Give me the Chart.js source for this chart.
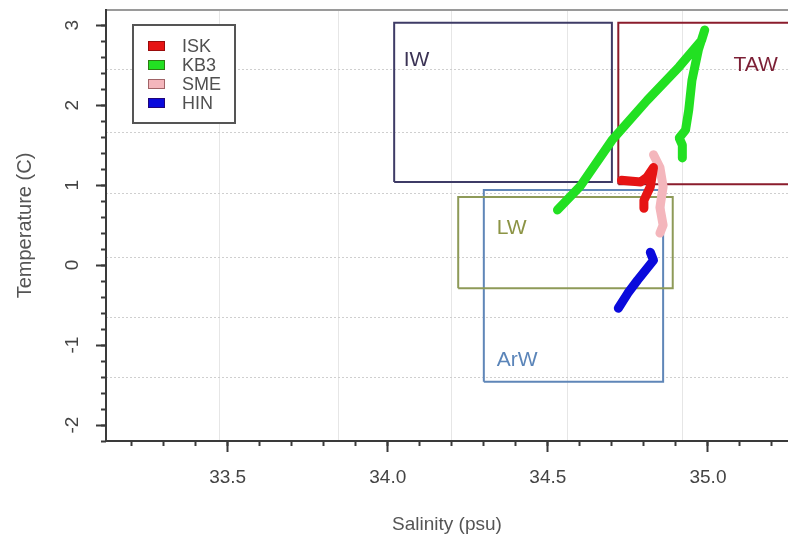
<!DOCTYPE html>
<html>
<head>
<meta charset="utf-8">
<script src="https://cdn.jsdelivr.net/npm/chart.js@4.4.1/dist/chart.umd.min.js"></script>
<style>
  html, body { margin: 0; padding: 0; background: #fff; }
</style>
</head>
<body>
<canvas id="tsChart" width="788" height="542"></canvas>
<script>
// T-S traces, salinity (psu) and temperature (C)
const iskSal  = [34.73, 34.79, 34.81, 34.83, 34.82, 34.80, 34.80];
const iskTemp = [1.06, 1.04, 1.10, 1.22, 0.98, 0.81, 0.71];

const kb3Sal  = [34.53, 34.60, 34.70, 34.81, 34.91, 34.98, 34.99, 34.97, 34.95, 34.94, 34.93, 34.91, 34.92, 34.92];
const kb3Temp = [0.69, 0.98, 1.56, 2.06, 2.48, 2.81, 2.94, 2.69, 2.31, 1.94, 1.69, 1.59, 1.50, 1.34];

const smeSal  = [34.83, 34.85, 34.86, 34.85, 34.86, 34.85];
const smeTemp = [1.38, 1.22, 0.98, 0.72, 0.50, 0.40];

const hinSal  = [34.82, 34.83, 34.81, 34.78, 34.75, 34.72];
const hinTemp = [0.16, 0.06, -0.04, -0.19, -0.35, -0.54];

// water mass boxes
const boxNames    = ['IW', 'TAW', 'LW', 'ArW'];
const boxSalMin   = [34.02, 34.72, 34.22, 34.30];
const boxSalMax   = [34.70, 35.40, 34.89, 34.86];
const boxTempMin  = [1.04, 1.01, -0.29, -1.46];
const boxTempMax  = [3.03, 3.03, 0.85, 0.94];
const boxLabelSal = [34.05, 35.08, 34.34, 34.34];
const boxLabelTemp = [2.56, 2.50, 0.46, -1.19];

// axes
const salRange  = [33.12, 35.25];
const tempRange = [-2.2, 3.19];
const salTicks  = [33.5, 34.0, 34.5, 35.0];
const tempTicks = [-2, -1, 0, 1, 2, 3];
// faint background grid of the original figure
const gridSal  = [33.475, 33.845, 34.2, 34.56, 34.92];
const gridTemp = [2.44, 1.66, 0.9, 0.1, -0.65, -1.41];

const FONT = '"Liberation Sans", Arial, sans-serif';
const axisInk = '#3a3a3a';
const traceColors = { ISK: '#e61414', KB3: '#22e022', SME: '#f4b6bc', HIN: '#0a0adc' };
const boxColors = { IW: '#3e3b66', TAW: '#8b1c2c', LW: '#8e9a58', ArW: '#5f86b8' };
const boxTextColors = { IW: '#3b3355', TAW: '#7b1f35', LW: '#8c9445', ArW: '#5b85b9' };

const toPoints = (xs, ys) => xs.map((v, i) => ({ x: v, y: ys[i] }));

const traces = [
  ['ISK', iskSal, iskTemp],
  ['KB3', kb3Sal, kb3Temp],
  ['SME', smeSal, smeTemp],
  ['HIN', hinSal, hinTemp]
].map(([name, s, t]) => ({
  label: name,
  inLegend: true,
  data: toPoints(s, t),
  showLine: true,
  pointRadius: 0,
  borderWidth: 9,
  borderColor: traceColors[name],
  backgroundColor: traceColors[name],
  borderCapStyle: 'round',
  borderJoinStyle: 'round'
}));

const boxes = boxNames.map((name, i) => ({
  label: name,
  data: toPoints(
    [boxSalMin[i], boxSalMax[i], boxSalMax[i], boxSalMin[i], boxSalMin[i]],
    [boxTempMin[i], boxTempMin[i], boxTempMax[i], boxTempMax[i], boxTempMin[i]]
  ),
  showLine: true,
  pointRadius: 0,
  borderWidth: 2,
  borderColor: boxColors[name],
  fill: false
}));

const boxLabels = {
  id: 'boxLabels',
  afterDatasetsDraw(chart) {
    const { ctx, scales: { x, y } } = chart;
    ctx.save();
    ctx.font = '21px ' + FONT;
    ctx.textBaseline = 'middle';
    boxNames.forEach((name, i) => {
      ctx.fillStyle = boxTextColors[name];
      ctx.fillText(name, x.getPixelForValue(boxLabelSal[i]), y.getPixelForValue(boxLabelTemp[i]));
    });
    ctx.restore();
  }
};

const legendBox = {
  id: 'legendBox',
  afterDraw(chart) {
    const ctx = chart.ctx;
    const items = chart.data.datasets.filter(d => d.inLegend);
    ctx.save();
    ctx.fillStyle = '#fff';
    ctx.fillRect(133, 25, 102, 98);
    ctx.strokeStyle = '#555';
    ctx.lineWidth = 2;
    ctx.strokeRect(133, 25, 102, 98);
    ctx.font = '18px ' + FONT;
    ctx.textBaseline = 'middle';
    items.forEach((d, i) => {
      const y = 46 + i * 19;
      ctx.fillStyle = d.borderColor;
      ctx.fillRect(148, y - 5, 17, 10);
      ctx.strokeStyle = 'rgba(60,0,0,0.45)';
      ctx.lineWidth = 1;
      ctx.strokeRect(148.5, y - 4.5, 16, 9);
      ctx.fillStyle = '#505050';
      ctx.fillText(d.label, 182, y + 1);
    });
    ctx.restore();
  }
};

const noPad = s => { s.paddingLeft = 0; s.paddingRight = 0; s.paddingTop = 0; s.paddingBottom = 0; };

new Chart(document.getElementById('tsChart').getContext('2d'), {
  type: 'scatter',
  data: { datasets: traces.concat(boxes) },
  options: {
    responsive: false,
    animation: false,
    events: [],
    layout: { padding: 0 },
    plugins: { legend: { display: false }, tooltip: { enabled: false } },
    scales: {
      x: {
        type: 'linear', position: 'bottom', weight: 1,
        min: salRange[0], max: salRange[1],
        afterBuildTicks: s => { s.ticks = salTicks.map(v => ({ value: v })); },
        afterFit: s => { s.height = 101; noPad(s); },
        ticks: { color: '#444', padding: 14, maxRotation: 0, font: { family: FONT, size: 19 }, callback: v => v.toFixed(1) },
        grid: { drawOnChartArea: false, tickLength: 11, tickWidth: 2, tickColor: axisInk },
        border: { color: axisInk, width: 2 },
        title: { display: true, text: 'Salinity (psu)', color: '#555', font: { family: FONT, size: 19 }, padding: { top: 0, bottom: 6 } }
      },
      xMinor: {
        type: 'linear', position: 'bottom', weight: 0,
        min: salRange[0], max: salRange[1],
        afterFit: s => { s.height = 0; noPad(s); },
        ticks: { display: false, stepSize: 0.1, includeBounds: false },
        grid: { drawOnChartArea: false, tickLength: 5, tickWidth: 2, tickColor: axisInk },
        border: { display: false }
      },
      xGrid: {
        type: 'linear', position: 'top',
        min: salRange[0], max: salRange[1],
        afterBuildTicks: s => { s.ticks = gridSal.map(v => ({ value: v })); },
        afterFit: s => { s.height = 10; noPad(s); },
        ticks: { display: false },
        grid: { color: '#e6e6e6', drawTicks: false },
        border: { color: '#9a9a9a', width: 2 }
      },
      y: {
        type: 'linear', position: 'left', weight: 1,
        min: tempRange[0], max: tempRange[1],
        afterBuildTicks: s => { s.ticks = tempTicks.map(v => ({ value: v })); },
        afterFit: s => { s.width = 106; noPad(s); },
        ticks: { color: '#444', padding: 15, minRotation: 90, maxRotation: 90, crossAlign: 'center', font: { family: FONT, size: 19 } },
        grid: { drawOnChartArea: false, tickLength: 10, tickWidth: 2, tickColor: axisInk },
        border: { color: axisInk, width: 2 },
        title: { display: true, text: 'Temperature (C)', color: '#555', font: { family: FONT, size: 20 }, padding: { top: 13, bottom: 0 } }
      },
      yMinor: {
        type: 'linear', position: 'left', weight: 0,
        min: tempRange[0], max: tempRange[1],
        afterFit: s => { s.width = 0; noPad(s); },
        ticks: { display: false, stepSize: 0.2, includeBounds: false },
        grid: { drawOnChartArea: false, tickLength: 5, tickWidth: 2, tickColor: axisInk },
        border: { display: false }
      },
      yGrid: {
        type: 'linear', position: 'right',
        min: tempRange[0], max: tempRange[1],
        afterBuildTicks: s => { s.ticks = gridTemp.map(v => ({ value: v })); },
        afterFit: s => { s.width = 0; noPad(s); },
        ticks: { display: false },
        grid: { color: '#cfcfcf', drawTicks: false },
        border: { display: false, dash: [2, 2] }
      }
    }
  },
  plugins: [boxLabels, legendBox]
});
</script>
</body>
</html>
